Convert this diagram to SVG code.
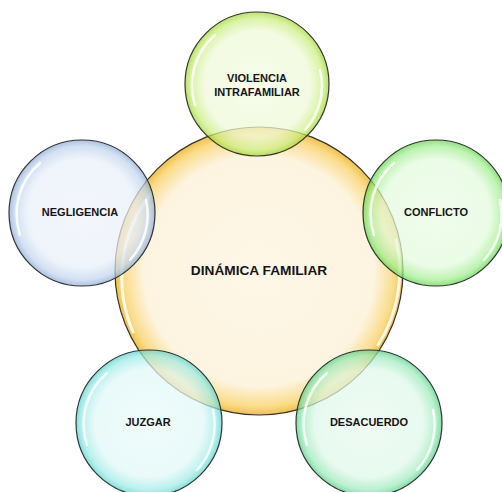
<svg xmlns="http://www.w3.org/2000/svg" width="502" height="492" viewBox="0 0 502 492">
<style>
.c{stroke:#333333;stroke-width:1.2}
.hl{fill:none;stroke:#ffffff;stroke-linecap:round;stroke-opacity:0.85}
.t{font-family:"Liberation Sans",Arial,sans-serif;font-weight:bold;fill:#141414;text-anchor:middle}
.s{font-size:11px}
.b{font-size:13.7px}
</style>
<defs>
<radialGradient id="gO"><stop offset="0" stop-color="#fef6e4"/><stop offset="0.8" stop-color="#fdf3dc"/><stop offset="0.94" stop-color="#f9d77a"/><stop offset="1" stop-color="#f0b92f"/></radialGradient>
<radialGradient id="gY"><stop offset="0" stop-color="#f3fbe3"/><stop offset="0.74" stop-color="#eef9d6"/><stop offset="0.92" stop-color="#c9ee80"/><stop offset="1" stop-color="#9fd92c"/></radialGradient>
<radialGradient id="gB"><stop offset="0" stop-color="#eff4fb"/><stop offset="0.74" stop-color="#e9f0f9"/><stop offset="0.92" stop-color="#c0d4ed"/><stop offset="1" stop-color="#8aacd7"/></radialGradient>
<radialGradient id="gG"><stop offset="0" stop-color="#ebfce7"/><stop offset="0.74" stop-color="#e2fadc"/><stop offset="0.92" stop-color="#a3ee92"/><stop offset="1" stop-color="#62d84c"/></radialGradient>
<radialGradient id="gC"><stop offset="0" stop-color="#ebfbfb"/><stop offset="0.74" stop-color="#e0f8f7"/><stop offset="0.92" stop-color="#9febe6"/><stop offset="1" stop-color="#55d6cf"/></radialGradient>
<radialGradient id="gM"><stop offset="0" stop-color="#e9fbf0"/><stop offset="0.74" stop-color="#dff8e9"/><stop offset="0.92" stop-color="#9deabb"/><stop offset="1" stop-color="#54d387"/></radialGradient>
</defs>
<g id="dinamica">
<circle class="c" cx="259" cy="271" r="144" fill="url(#gO)" fill-opacity="0.88"/>
<path class="hl" stroke-width="3" d="M 133 332 A 136 136 0 0 1 150 195"/>
<path class="hl" stroke-width="3" d="M 396 240 A 136 136 0 0 1 378 345"/>
</g>
<g id="violencia">
<circle class="c" cx="257" cy="84" r="72" fill="url(#gY)" fill-opacity="0.72"/>
<path class="hl" stroke-width="2.5" d="M 195 105 A 66 66 0 0 1 215 35"/>
<path class="hl" stroke-width="2.5" d="M 320 70 A 66 66 0 0 1 305 130"/>
</g>
<g id="negligencia">
<circle class="c" cx="82" cy="213" r="73" fill="url(#gB)" fill-opacity="0.72"/>
<path class="hl" stroke-width="2.5" d="M 20 235 A 67 67 0 0 1 40 163"/>
<path class="hl" stroke-width="2.5" d="M 146 200 A 67 67 0 0 1 130 260"/>
</g>
<g id="conflicto">
<circle class="c" cx="436" cy="213" r="73" fill="url(#gG)" fill-opacity="0.72"/>
<path class="hl" stroke-width="2.5" d="M 374 235 A 67 67 0 0 1 394 163"/>
<path class="hl" stroke-width="2.5" d="M 500 200 A 67 67 0 0 1 484 260"/>
</g>
<g id="juzgar">
<circle class="c" cx="149" cy="423" r="73" fill="url(#gC)" fill-opacity="0.72"/>
<path class="hl" stroke-width="2.5" d="M 87 445 A 67 67 0 0 1 107 373"/>
<path class="hl" stroke-width="2.5" d="M 213 410 A 67 67 0 0 1 197 470"/>
</g>
<g id="desacuerdo">
<circle class="c" cx="369" cy="423" r="73" fill="url(#gM)" fill-opacity="0.72"/>
<path class="hl" stroke-width="2.5" d="M 307 445 A 67 67 0 0 1 327 373"/>
<path class="hl" stroke-width="2.5" d="M 433 410 A 67 67 0 0 1 417 470"/>
</g>
<g id="labels">
<text class="t b" x="259" y="275">DINÁMICA FAMILIAR</text>
<text class="t s" x="257" y="82">VIOLENCIA</text>
<text class="t s" x="257" y="96">INTRAFAMILIAR</text>
<text class="t s" x="80" y="216">NEGLIGENCIA</text>
<text class="t s" x="436" y="216">CONFLICTO</text>
<text class="t s" x="148" y="426">JUZGAR</text>
<text class="t s" x="369" y="426">DESACUERDO</text>
</g>
<g id="connectors"></g>
</svg>
